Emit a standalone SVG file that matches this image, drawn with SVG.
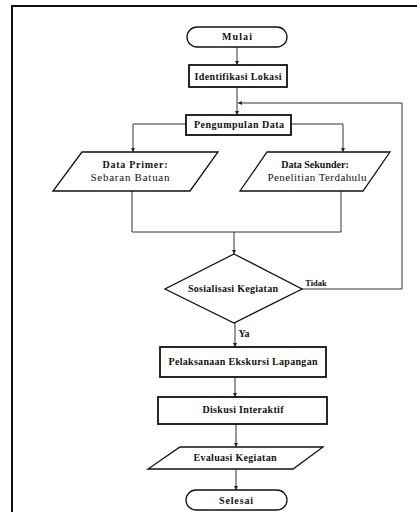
<svg xmlns="http://www.w3.org/2000/svg" width="417" height="512" viewBox="0 0 417 512">
<style>
text{font-family:"Liberation Serif","Times New Roman",serif;fill:#111;text-anchor:middle}
.b{font-weight:bold;font-size:10px}
.r{font-size:11px}
.t{font-weight:bold;font-size:8.5px}
.shape{fill:#fff;stroke:#111;stroke-width:1.3}
.box{fill:#fff;stroke:#111;stroke-width:1.8}
.c{fill:none;stroke:#333;stroke-width:1}
</style>
<defs>
<marker id="ah" markerWidth="5" markerHeight="5" refX="4" refY="2.5" orient="auto" markerUnits="userSpaceOnUse">
<path d="M0,0.5 L4,2.5 L0,4.5 Z" fill="#222"/>
</marker>
</defs>
<rect width="417" height="512" fill="#fff"/>
<path d="M12,512 V6 H417" fill="none" stroke="#111" stroke-width="2"/>
<g id="connectors">
<line class="c" x1="237" y1="47" x2="237" y2="65" marker-end="url(#ah)"/>
<line class="c" x1="237" y1="87" x2="237" y2="115" marker-end="url(#ah)"/>
<polyline class="c" points="186,124 133,124 133,152" marker-end="url(#ah)"/>
<polyline class="c" points="291,124 343,124 343,152" marker-end="url(#ah)"/>
<polyline class="c" points="132,191 132,232 341,232 341,191"/>
<line class="c" x1="234" y1="232" x2="234" y2="254" marker-end="url(#ah)"/>
<polyline class="c" points="302,289 402,289 402,103 238,103" marker-end="url(#ah)"/>
<line class="c" x1="235" y1="323" x2="235" y2="347" marker-end="url(#ah)"/>
<line class="c" x1="235" y1="377" x2="235" y2="397" marker-end="url(#ah)"/>
<line class="c" x1="236" y1="424" x2="236" y2="447" marker-end="url(#ah)"/>
<line class="c" x1="236" y1="469" x2="236" y2="490" marker-end="url(#ah)"/>
<text class="t" x="316" y="286">Tidak</text>
<text class="b" x="244" y="337">Ya</text>
</g>
<g id="mulai">
<rect class="shape" x="187" y="27" width="100" height="20" rx="10"/>
<text class="b" x="237" y="40" textLength="30" lengthAdjust="spacing">Mulai</text>
</g>
<g id="identifikasi">
<rect class="box" x="189" y="65" width="98" height="22"/>
<text class="b" x="238" y="80" textLength="87" lengthAdjust="spacing">Identifikasi Lokasi</text>
</g>
<g id="pengumpulan">
<rect class="box" x="186" y="115" width="105" height="20"/>
<text class="b" x="239" y="128" textLength="90" lengthAdjust="spacing">Pengumpulan Data</text>
</g>
<g id="primer">
<polygon class="shape" points="82,152 218,152 190,191 53,191"/>
<text class="b" x="135" y="168" textLength="65" lengthAdjust="spacing">Data Primer:</text>
<text class="r" x="130" y="181" textLength="79" lengthAdjust="spacing">Sebaran Batuan</text>
</g>
<g id="sekunder">
<polygon class="shape" points="267,152 390,152 363,191 240,191"/>
<text class="b" x="315" y="168">Data Sekunder:</text>
<text class="r" x="317" y="181" textLength="99" lengthAdjust="spacing">Penelitian Terdahulu</text>
</g>
<g id="sosialisasi">
<polygon class="shape" points="234,254 302,289 234,323 165,289"/>
<text class="b" x="233" y="292" textLength="90" lengthAdjust="spacing">Sosialisasi Kegiatan</text>
</g>
<g id="pelaksanaan">
<rect class="box" x="160" y="347" width="166" height="30"/>
<text class="b" x="243" y="365" textLength="149" lengthAdjust="spacing">Pelaksanaan Ekskursi Lapangan</text>
</g>
<g id="diskusi">
<rect class="box" x="158" y="397" width="169" height="27"/>
<text class="b" x="243" y="413" textLength="81" lengthAdjust="spacing">Diskusi Interaktif</text>
</g>
<g id="evaluasi">
<polygon class="shape" points="180,447 323,447 293,469 148,469"/>
<text class="b" x="235" y="461" textLength="83" lengthAdjust="spacing">Evaluasi Kegiatan</text>
</g>
<g id="selesai">
<rect class="shape" x="186" y="490" width="101" height="20" rx="10"/>
<text class="b" x="236" y="504" textLength="34" lengthAdjust="spacing">Selesai</text>
</g>
</svg>
